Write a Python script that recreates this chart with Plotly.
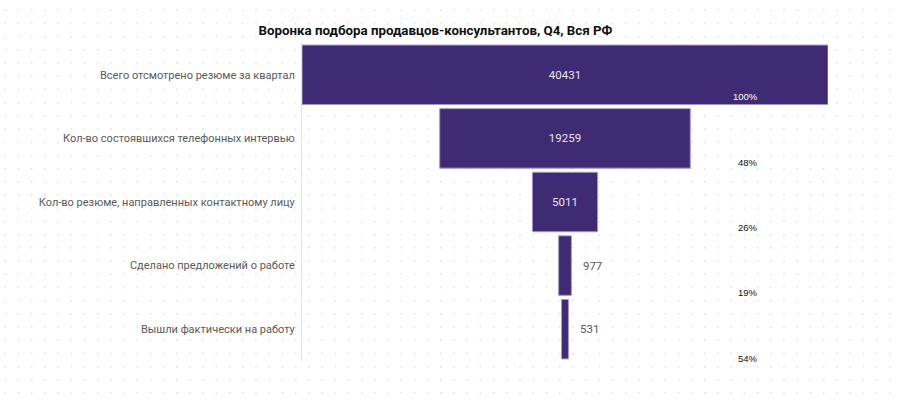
import base64
import plotly.graph_objects as go

# ---- data ----
stages = [
    "Всего отсмотрено резюме за квартал",
    "Кол-во состоявшихся телефонных интервью",
    "Кол-во резюме, направленных контактному лицу",
    "Сделано предложений о работе",
    "Вышли фактически на работу",
]
values = [40431, 19259, 5011, 977, 531]
step_pct = ["100%", "48%", "26%", "19%", "54%"]
title_text = "Воронка подбора продавцов-консультантов, Q4, Вся РФ"

# ---- layout geometry ----
W, H = 901, 399
L, R, T, B = 302, 73, 43, 38
PW, PH = W - L - R, H - T - B

FONT = "Roboto, sans-serif"
BAR = "#3f2a74"

# dotted background (decorative pattern)
svg = (
    f'<svg xmlns="http://www.w3.org/2000/svg" width="{W}" height="{H}">'
    '<defs><pattern id="p" x="4.5" y="9.5" width="13.2" height="13.2" '
    'patternUnits="userSpaceOnUse"><rect width="1.4" height="1.4" fill="#c6dbf1"/>'
    '</pattern></defs><rect width="100%" height="100%" fill="url(#p)"/></svg>'
)
bg_uri = "data:image/svg+xml;base64," + base64.b64encode(svg.encode()).decode()

textpos = ["inside" if v / values[0] > 0.05 else "outside" for v in values]
labels = [str(v) if p == "inside" else "\u00a0\u00a0\u00a0" + str(v) for v, p in zip(values, textpos)]

fig = go.Figure(
    go.Funnel(
        y=stages,
        x=values,
        text=labels,
        textinfo="text",
        textposition=textpos,
        insidetextfont=dict(family=FONT, size=11.5, color="#e6e4ee"),
        outsidetextfont=dict(family=FONT, size=11.5, color="#595959"),
        marker=dict(color=BAR, line=dict(color="#a497cc", width=1)),
        connector=dict(visible=False),
        hoverinfo="skip",
    )
)

PCT_X = 760  # right edge of percentage labels, px
annotations = []
for i, p in enumerate(step_pct):
    ypx = 97 + 65.25 * i
    bar_right = L + PW / 2 + values[i] / values[0] * PW / 2
    on_bar = bar_right > PCT_X
    annotations.append(
        dict(
            text=p,
            xref="paper",
            yref="paper",
            x=(PCT_X - L) / PW,
            y=1 - (ypx - T) / PH,
            xanchor="right",
            yanchor="middle",
            showarrow=False,
            font=dict(
                family="Liberation Sans, Arial, sans-serif",
                size=9.5,
                color="#ffffff" if on_bar else "#111111",
            ),
        )
    )

fig.update_layout(
    width=W,
    height=H,
    margin=dict(l=L, r=R, t=T, b=B, pad=0, autoexpand=False),
    paper_bgcolor="white",
    plot_bgcolor="rgba(0,0,0,0)",
    funnelgap=0.065,
    showlegend=False,
    title=dict(
        text=f"<b>{title_text}</b>",
        x=435.5 / W,
        xref="container",
        xanchor="center",
        y=1 - 30 / H,
        yref="container",
        yanchor="middle",
        font=dict(family=FONT, size=13.3, color="#111111"),
    ),
    xaxis=dict(visible=False, range=[-values[0] / 2, values[0] / 2], automargin=False),
    yaxis=dict(
        automargin=False,
        showline=True,
        linecolor="#e2e2e2",
        linewidth=1,
        showgrid=False,
        zeroline=False,
        ticks="",
        ticklabelstandoff=4,
        tickfont=dict(family=FONT, size=11, color="#5a5a5a"),
    ),
    annotations=annotations,
    images=[
        dict(
            source=bg_uri,
            xref="paper",
            yref="paper",
            x=-L / PW,
            y=1 + T / PH,
            sizex=W / PW,
            sizey=H / PH,
            xanchor="left",
            yanchor="top",
            sizing="stretch",
            layer="below",
        )
    ],
)

fig.write_html(
    "out.html",
    config={"displayModeBar": False},
    post_script="document.body.style.margin='0px';document.body.style.overflow='hidden';",
)
